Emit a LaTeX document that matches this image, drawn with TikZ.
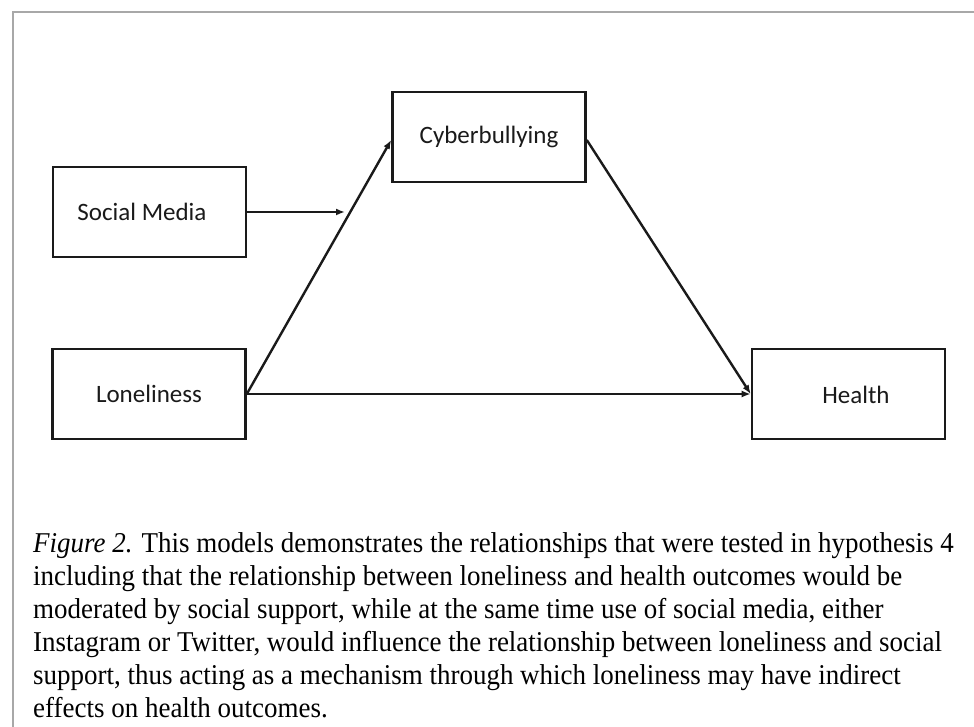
\documentclass[tikz,border=0pt]{standalone}
\usepackage{fontspec}
\setmainfont{Liberation Serif}
\newfontfamily\boxfont{Carlito}
\newfontfamily\capfont[FakeStretch=0.94]{Liberation Serif}
\usetikzlibrary{arrows.meta}
\definecolor{framegray}{HTML}{A8A8A8}
\definecolor{ink}{HTML}{1A1A1A}
\tikzset{
  vbox/.style={draw=ink, line width=2.6pt, minimum width=193pt, minimum height=90pt, inner sep=0pt, font=\boxfont\fontsize{25}{29}\selectfont, text=ink},
  boxtext/.style={inner sep=0pt, font=\boxfont\fontsize{25}{29}\selectfont, text=ink},
  conn/.style={draw=ink, line width=2.4pt, -{Latex[length=9pt,width=7pt]}},
  capline/.style={anchor=base west, inner sep=0pt, font=\capfont\fontsize{28.7}{33}\selectfont, text=black}
}
\begin{document}
\begin{tikzpicture}[x=1pt,y=-1pt]
\useasboundingbox (0,0) rectangle (974,727);
\fill[white] (0,0) rectangle (974,727);
\draw[framegray, line width=2.5pt] (13,740) -- (13,12) -- (990,12);
% boxes
\node[vbox] (sm) at (149.5,212) {};
\node[boxtext] (smt) at (142,212) {Social Media};
\node[vbox] (cy) at (489,137) {Cyberbullying};
\node[vbox] (lo) at (149,394) {Loneliness};
\node[vbox] (he) at (848.5,394) {};
\node[boxtext] (het) at (856,395) {Health};
\coordinate (smend) at (345,212);
% connectors
\draw[conn] (sm.east) -- (smend);
\draw[conn] (lo.east) -- ([yshift=-3pt]cy.west);
\draw[conn] ([yshift=-3pt]cy.east) -- (he.west);
\draw[conn] (lo.east) -- (he.west);
% caption
\node[capline] (cap1) at (33,552) {\textit{Figure 2.} This models demonstrates the relationships that were tested in hypothesis 4};
\node[capline] (cap2) at (33,585) {including that the relationship between loneliness and health outcomes would be};
\node[capline] (cap3) at (33,618) {moderated by social support, while at the same time use of social media, either};
\node[capline] (cap4) at (33,651) {Instagram or Twitter, would influence the relationship between loneliness and social};
\node[capline] (cap5) at (33,684) {support, thus acting as a mechanism through which loneliness may have indirect};
\node[capline] (cap6) at (33,717) {effects on health outcomes.};
\end{tikzpicture}
\end{document}
